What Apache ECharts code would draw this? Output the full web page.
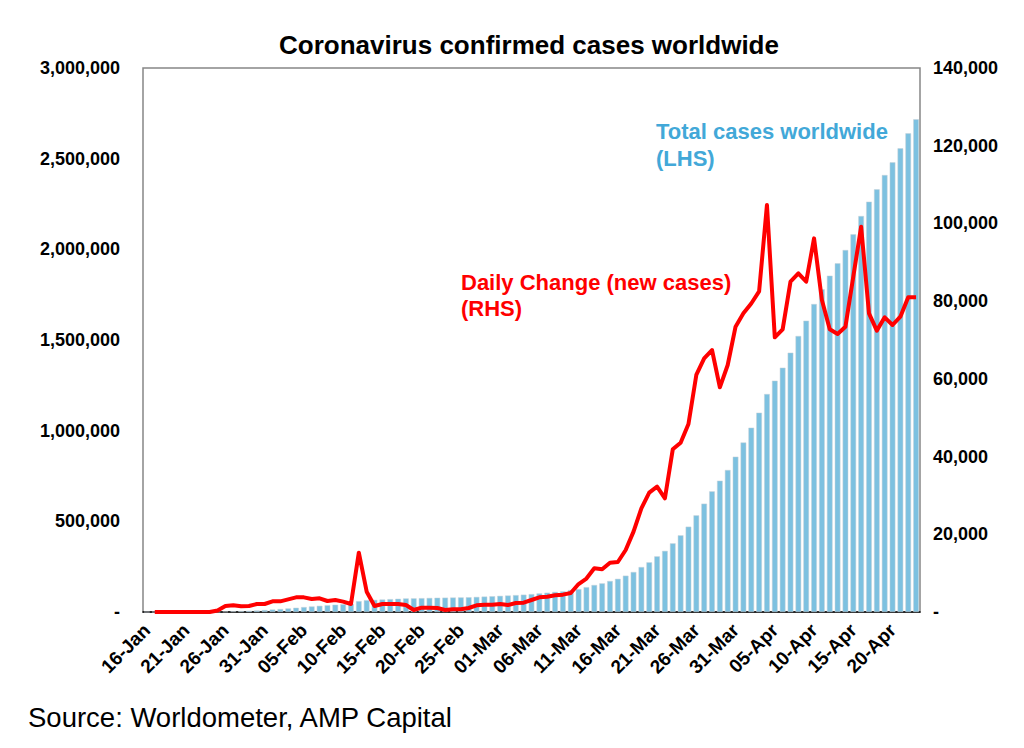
<!DOCTYPE html>
<html>
<head>
<meta charset="utf-8">
<title>Coronavirus confirmed cases worldwide</title>
<script src="https://cdn.jsdelivr.net/npm/echarts@6/dist/echarts.min.js"></script>
<style>
  html, body { margin: 0; padding: 0; background: #fff; }
  #chart { width: 1024px; height: 748px; }
</style>
</head>
<body>
<div id="chart"></div>
<script>
// daily categories, 16-Jan to 23-Apr 2020
var months = ['Jan', 'Feb', 'Mar', 'Apr'];
var dates = [];
for (var d = 0; d < 99; d++) {
  var dt = new Date(Date.UTC(2020, 0, 16 + d));
  var day = dt.getUTCDate();
  dates.push((day < 10 ? '0' : '') + day + '-' + months[dt.getUTCMonth()]);
}

// total confirmed cases (LHS, bars)
var totalCases = [
  0, 0, 0, 0, 0, 0, 0, 0, 0, 580,
  2100, 3800, 5300, 6800, 8900, 11000, 13700, 16500, 19700, 23500,
  27300, 30600, 34100, 37000, 40000, 42700, 44800, 60000, 65300, 66800,
  68900, 71000, 73000, 74800, 75300, 76400, 77500, 78600, 79100, 79800,
  80500, 81500, 83200, 85100, 87000, 89100, 90900, 93200, 95600, 98700,
  102500, 106400, 110700, 114000, 121000, 126000, 137000, 148900, 158100, 171000,
  183000, 200400, 220600, 248000, 274000, 307000, 337000, 378700, 422800, 470600,
  533100, 597400, 665400, 724200, 783100, 856600, 935000, 1016600, 1099300, 1202200,
  1275700, 1347400, 1430100, 1522100, 1606600, 1698500, 1779600, 1854800, 1922800, 1996300,
  2082600, 2183800, 2262900, 2330900, 2409900, 2479800, 2557000, 2639700, 2717000
];

// daily new cases (RHS, line)
var dailyNew = [
  null, 0, 0, 0, 0, 0, 0, 0, 0, 400,
  1540, 1715, 1460, 1540, 2060, 2060, 2745, 2745, 3260, 3775,
  3775, 3345, 3518, 2830, 3088, 2660, 2060, 15270, 5233, 1540,
  2060, 2060, 2060, 1800, 515, 1115, 1115, 1030, 515, 686,
  686, 1030, 1715, 1887, 1887, 2060, 1800, 2316, 2402, 3088,
  3775, 3946, 4290, 4460, 4900, 7200, 8600, 11240, 10980, 12700,
  12870, 15960, 20680, 26680, 30710, 32260, 29260, 41860, 43580, 48380,
  61000, 65280, 67420, 57820, 63570, 73430, 76860, 79400, 82500, 104740,
  70690, 72750, 85010, 87160, 85010, 96160, 80290, 72750, 71540, 73430,
  86300, 99170, 76860, 72410, 75830, 73860, 76000, 80980, 80980
];

var font = '"Liberation Sans", Arial, sans-serif';

function fmtNum(v) {
  if (v === 0) return '-';
  return v.toString().replace(/\B(?=(\d{3})+(?!\d))/g, ',');
}

var chart = echarts.init(document.getElementById('chart'), null, { renderer: 'svg' });
chart.setOption({
  animation: false,
  backgroundColor: '#ffffff',
  textStyle: { fontFamily: font },
  title: {
    text: 'Coronavirus confirmed cases worldwide',
    left: 524,
    top: 27,
    textAlign: 'center',
    textStyle: { fontSize: 26, fontWeight: 'bold', color: '#000', fontFamily: font }
  },
  grid: {
    left: 143, right: 104, top: 68, bottom: 136,
    show: true,
    borderColor: '#868686',
    borderWidth: 1.5
  },
  xAxis: {
    type: 'category',
    data: dates,
    boundaryGap: true,
    axisLine: { lineStyle: { color: '#000', width: 1.5 } },
    axisTick: { interval: 4, length: 6, lineStyle: { color: '#000', width: 1.2 } },
    axisLabel: {
      interval: 4,
      rotate: 45,
      margin: 15,
      color: '#000',
      fontSize: 19,
      fontWeight: 'bold',
      fontFamily: font
    },
    splitLine: { show: false }
  },
  yAxis: [
    {
      type: 'value',
      min: 0,
      max: 3000000,
      interval: 500000,
      axisLine: { show: false },
      axisTick: { show: false },
      splitLine: { show: false },
      axisLabel: {
        margin: 23,
        color: '#000',
        fontSize: 18,
        fontWeight: 'bold',
        fontFamily: font,
        formatter: fmtNum
      }
    },
    {
      type: 'value',
      min: 0,
      max: 140000,
      interval: 20000,
      position: 'right',
      axisLine: { show: false },
      axisTick: { show: false },
      splitLine: { show: false },
      axisLabel: {
        margin: 13,
        color: '#000',
        fontSize: 18,
        fontWeight: 'bold',
        fontFamily: font,
        formatter: fmtNum
      }
    }
  ],
  series: [
    {
      name: 'Total cases worldwide (LHS)',
      type: 'bar',
      yAxisIndex: 0,
      data: totalCases,
      barCategoryGap: '28%',
      itemStyle: { color: '#7dc1e0', borderColor: '#c9d3d8', borderWidth: 0.5 }
    },
    {
      name: 'Daily Change (new cases) (RHS)',
      type: 'line',
      yAxisIndex: 1,
      data: dailyNew,
      symbol: 'none',
      z: 5,
      lineStyle: { color: '#ff0000', width: 4, join: 'round' }
    }
  ],
  graphic: [
    {
      type: 'text', left: 656, top: 118,
      style: {
        text: 'Total cases worldwide\n(LHS)',
        fill: '#42a8d8',
        font: 'bold 22px ' + font,
        lineHeight: 27
      }
    },
    {
      type: 'text', left: 461, top: 269,
      style: {
        text: 'Daily Change (new cases)\n(RHS)',
        fill: '#ff0000',
        font: 'bold 22px ' + font,
        lineHeight: 26
      }
    },
    {
      type: 'text', left: 28, top: 703,
      style: {
        text: 'Source: Worldometer, AMP Capital',
        fill: '#000',
        font: '27.5px ' + font
      }
    }
  ]
});
window.addEventListener('resize', function() { chart.resize(); });
</script>
</body>
</html>
